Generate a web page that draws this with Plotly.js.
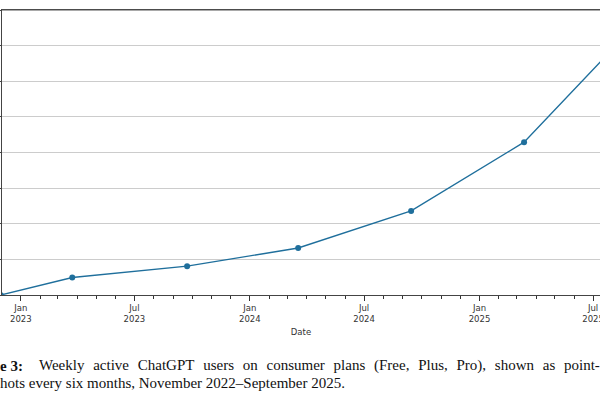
<!DOCTYPE html>
<html>
<head>
<meta charset="utf-8">
<script src="https://cdn.plot.ly/plotly-3.0.1.min.js"></script>
<style>
html,body{margin:0;padding:0;background:#fff;overflow:hidden;}
#chart{width:600px;height:400px;}
</style>
</head>
<body>
<div id="chart"></div>
<script>
// Snapshot dates (every ~six months) and weekly active users (millions, estimated)
var dates = ["2022-11-30", "2023-03-24", "2023-09-23", "2024-03-18", "2024-09-14", "2025-03-13", "2025-09-10"];
var wauMillions = [0, 49, 81, 132, 236, 429, 765];

var tickDates = ["2023-01-01", "2023-07-01", "2024-01-01", "2024-07-01", "2025-01-01", "2025-07-01"];
var tickLabels = ["Jan<br>2023", "Jul<br>2023", "Jan<br>2024", "Jul<br>2024", "Jan<br>2025", "Jul<br>2025"];

var captionLabel = "e 3:";
var captionLine1Words = ["Weekly", "active", "ChatGPT", "users", "on", "consumer", "plans", "(Free,", "Plus,", "Pro),", "shown", "as", "point-"];
var captionLine2 = "hots every six months, November 2022–September 2025.";

var lineColor = "#1f6f9c";

var trace = {
  x: dates,
  y: wauMillions,
  type: "scatter",
  mode: "lines+markers",
  line: {color: lineColor, width: 1.4},
  marker: {color: lineColor, size: 6},
  hoverinfo: "x+y"
};

var capFont = {family: "Liberation Serif, DejaVu Serif, serif", size: 15, color: "#111"};
var axFont = {family: "DejaVu Sans, sans-serif", size: 8.5, color: "#333"};

var W = 600, H = 400, ML = 2, MR = 0, MT = 10, MB = 105;
var plotW = W - ML - MR, plotH = H - MT - MB;
function px2x(px) { return (px - ML) / plotW; }
function py2y(py) { return -(py - (H - MB)) / plotH; }

// justified first caption line: widened interword spaces
var line1Text = captionLine1Words.join("\u00a0\u200a ");

var annotations = [
  {xref: "paper", yref: "paper", x: px2x(0), y: py2y(366), xanchor: "left", yanchor: "middle",
   showarrow: false, text: "<b>" + captionLabel + "</b>", font: capFont, borderpad: 0, xshift: -1},
  {xref: "paper", yref: "paper", x: px2x(600), y: py2y(366), xanchor: "right", yanchor: "middle",
   showarrow: false, text: line1Text, font: capFont, borderpad: 0, xshift: 1},
  {xref: "paper", yref: "paper", x: px2x(0), y: py2y(383), xanchor: "left", yanchor: "middle",
   showarrow: false, text: captionLine2, font: capFont, borderpad: 0, xshift: -1}
];

var layout = {
  width: W,
  height: H,
  margin: {l: ML, r: MR, t: MT, b: MB},
  paper_bgcolor: "#fff",
  plot_bgcolor: "#fff",
  showlegend: false,
  xaxis: {
    type: "date",
    range: ["2022-12-02", "2025-07-12"],
    tickmode: "array",
    tickvals: tickDates,
    ticktext: tickLabels,
    ticks: "outside",
    ticklen: 5,
    tickwidth: 1,
    tickcolor: "#333",
    ticklabeloverflow: "allow",
    showgrid: false,
    zeroline: false,
    showline: true,
    mirror: true,
    linecolor: "#444",
    linewidth: 1,
    tickfont: axFont,
    minor: {ticks: "outside", ticklen: 3, tickcolor: "#333", dtick: "M1", tick0: "2023-01-01", showgrid: false},
    title: {text: "Date", font: axFont, standoff: 5}
  },
  yaxis: {
    range: [0, 800],
    dtick: 100,
    tick0: 0,
    showgrid: true,
    gridcolor: "#cccccc",
    gridwidth: 1,
    zeroline: false,
    showline: true,
    linecolor: "#444",
    linewidth: 1.5,
    ticks: "outside",
    ticklen: 2,
    tickcolor: "#444",
    showticklabels: false
  },
  shapes: [
    {type: "line", xref: "paper", yref: "paper", x0: 0, x1: 1, y0: 1, y1: 1, line: {color: "#555", width: 1.2}}
  ],
  annotations: annotations
};

Plotly.newPlot("chart", [trace], layout, {displayModeBar: false, staticPlot: true});
</script>
</body>
</html>
